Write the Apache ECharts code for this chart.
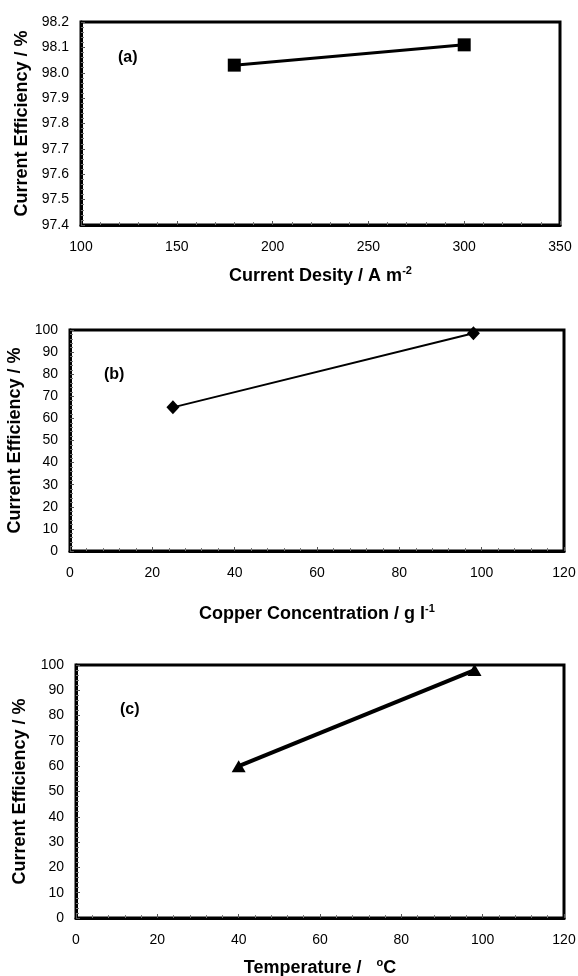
<!DOCTYPE html>
<html>
<head>
<meta charset="utf-8">
<script src="https://cdn.jsdelivr.net/npm/echarts@6/dist/echarts.min.js"></script>
<style>
html,body{margin:0;padding:0;background:#fff;}
#main{width:578px;height:976px;}
</style>
</head>
<body>
<div id="main"></div>
<script>
// Panel (a): current density vs current efficiency
const densityX = [180, 300];
const densityCE = [98.03, 98.11];
const densityTicks = [100, 150, 200, 250, 300, 350];
// Panel (b): copper concentration vs current efficiency
const copperX = [25, 98];
const copperCE = [65, 98.5];
// Panel (c): temperature vs current efficiency
const tempX = [40, 98];
const tempCE = [60, 98];

const FONT = '"Liberation Sans", Arial, sans-serif';
const chart = echarts.init(document.getElementById('main'));

const grids = [
  {left: 81, top: 22, width: 479, height: 203},
  {left: 70, top: 330, width: 494, height: 221},
  {left: 76, top: 665, width: 488, height: 253}
];

function xAxis(idx, min, max, interval, name, gap) {
  return {
    type: 'value', gridIndex: idx, min: min, max: max, interval: interval,
    name: name, nameLocation: 'middle', nameGap: gap,
    nameTextStyle: {
      fontFamily: FONT, fontSize: 18, fontWeight: 'bold', color: '#000',
      rich: {
        b: {fontFamily: FONT, fontSize: 18, fontWeight: 'bold', color: '#000'},
        sup: {fontFamily: FONT, fontSize: 11, fontWeight: 'bold', color: '#000', padding: [0, 0, 11, 0]}
      }
    },
    axisLine: {show: true, lineStyle: {color: '#000', width: 3}},
    axisTick: {show: true, inside: true, length: 4, lineStyle: {color: '#555', width: 1}},
    minorTick: {show: true, splitNumber: 5, length: 3, lineStyle: {color: '#777', width: 1}},
    axisLabel: {fontFamily: FONT, fontSize: 14, color: '#000', margin: 15},
    splitLine: {show: false}
  };
}
function yAxis(idx, min, max, interval, gap, fmt) {
  return {
    type: 'value', gridIndex: idx, min: min, max: max, interval: interval,
    name: 'Current Efficiency / %', nameLocation: 'middle', nameGap: gap,
    nameTextStyle: {fontFamily: FONT, fontSize: 18, fontWeight: 'bold', color: '#000'},
    axisLine: {show: true, lineStyle: {color: '#000', width: 3}},
    axisTick: {show: true, inside: true, length: 4, lineStyle: {color: '#555', width: 1}},
    minorTick: {show: true, splitNumber: 5, length: 3, lineStyle: {color: '#777', width: 1}},
    axisLabel: {fontFamily: FONT, fontSize: 14, color: '#000', margin: 12, formatter: fmt},
    splitLine: {show: false}
  };
}

function pairs(xs, ys) { return xs.map((x, i) => [x, ys[i]]); }

const option = {
  backgroundColor: '#fff',
  animation: false,
  grid: grids.map(g => Object.assign({show: true, borderColor: '#000', borderWidth: 3,
    backgroundColor: 'transparent', containLabel: false, outerBoundsMode: 'none'}, g)),
  xAxis: [
    xAxis(0, densityTicks[0], densityTicks[densityTicks.length - 1], 50, '{b|Current Desity / A m}{sup|-2}', 40),
    xAxis(1, 0, 120, 20, '{b|Copper Concentration / g l}{sup|-1}', 52),
    xAxis(2, 0, 120, 20, '{b|Temperature /   }{sup|o}{b|C}', 39)
  ],
  yAxis: [
    yAxis(0, 97.4, 98.2, 0.1, 49, v => v.toFixed(1)),
    yAxis(1, 0, 100, 10, 43, v => v),
    yAxis(2, 0, 100, 10, 47, v => v)
  ],
  series: [
    {type: 'line', xAxisIndex: 0, yAxisIndex: 0, data: pairs(densityX, densityCE),
     symbol: 'rect', symbolSize: 13, lineStyle: {color: '#000', width: 3},
     itemStyle: {color: '#000'}},
    {type: 'line', xAxisIndex: 1, yAxisIndex: 1, data: pairs(copperX, copperCE),
     symbol: 'diamond', symbolSize: [13, 14], lineStyle: {color: '#000', width: 2},
     itemStyle: {color: '#000'}},
    {type: 'line', xAxisIndex: 2, yAxisIndex: 2, data: pairs(tempX, tempCE),
     symbol: 'triangle', symbolSize: [14, 12], lineStyle: {color: '#000', width: 4},
     itemStyle: {color: '#000'}}
  ],
  graphic: [
    {type: 'text', left: 118, top: 50, style: {text: '(a)', font: 'bold 16px ' + FONT, fill: '#000'}},
    {type: 'text', left: 104, top: 367, style: {text: '(b)', font: 'bold 16px ' + FONT, fill: '#000'}},
    {type: 'text', left: 120, top: 702, style: {text: '(c)', font: 'bold 16px ' + FONT, fill: '#000'}}
  ]
};
chart.setOption(option);
</script>
</body>
</html>
